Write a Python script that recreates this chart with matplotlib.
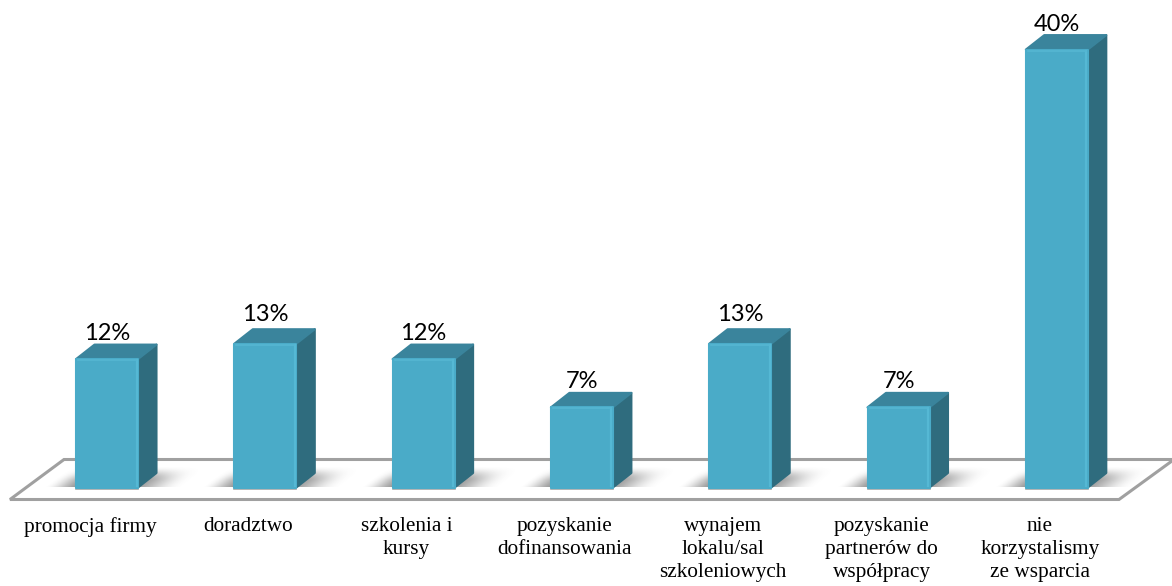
import numpy as np
import matplotlib
matplotlib.use('Agg')
import matplotlib.pyplot as plt
from matplotlib.patches import Polygon

categories = ['promocja firmy', 'doradztwo', 'szkolenia i\nkursy', 'pozyskanie\ndofinansowania',
              'wynajem\nlokalu/sal\nszkoleniowych', 'pozyskanie\npartnerów do\nwspółpracy',
              'nie\nkorzystalismy\nze wsparcia']
values = [11.7, 13.1, 11.7, 7.3, 13.1, 7.3, 39.9]
value_labels = ['12%', '13%', '12%', '7%', '13%', '7%', '40%']

W, H = 1172, 586
x0, x_step = 107.0, 158.3
y0, y_step = 487.5, 10.975

# the 13% labels sit a little higher above their bars
label_lift = [0, 4, 0, 0, 4, 0, 0]

fig = plt.figure(figsize=(W / 100, H / 100), dpi=100)
ax = fig.add_axes([0, 0, 1, 1])
xlim = (-x0 / x_step, (W - x0) / x_step)
ylim = ((y0 - H) / y_step, y0 / y_step)
ax.axis('off')

bar_w = 62 / x_step
dx = 18.5 / x_step
dy = 14.5 / y_step

# floor plate
floor_y_front = -12 / y_step
floor_y_back = 28 / y_step
floor = [(-97 / x_step, floor_y_front), (1012 / x_step, floor_y_front),
         (1067 / x_step, floor_y_back), (-43 / x_step, floor_y_back)]
ax.add_patch(Polygon(floor, closed=True, fc='white', ec='#A0A0A0', lw=2.2, zorder=1))


def smooth(t):
    t = np.clip(t, 0, 1)
    return t * t * (3 - 2 * t)


# soft shadow of one bar, in pixels relative to the bar's lower left corner
sh_x = np.arange(-40, 140)
sh_y = np.arange(0, 24)
gx, gy = np.meshgrid(sh_x + 0.5, sh_y + 0.5)
s = gx - 1.3 * gy
sh_alpha = smooth((s + 32) / 36) * smooth((108 - s) / 56) ** 1.3 * smooth((21 - gy) / 15) * 0.72
sh_rgba = np.zeros(gx.shape + (4,))
sh_rgba[..., :3] = 0.42
sh_rgba[..., 3] = sh_alpha

for i, (v, lab, cat) in enumerate(zip(values, value_labels, categories)):
    left, right = i - bar_w / 2, i + bar_w / 2

    ax.imshow(sh_rgba, origin='lower', aspect='auto', interpolation='bilinear', zorder=2,
              extent=(left + sh_x[0] / x_step, left + (sh_x[-1] + 1) / x_step,
                      sh_y[0] / y_step, (sh_y[-1] + 1) / y_step))

    # side and top faces
    ax.add_patch(Polygon([(right, 0), (right + dx, dy), (right + dx, v + dy), (right, v)],
                         closed=True, fc='#2F6C7E', ec='#2F6C7E', lw=1.5, joinstyle='round', zorder=3))
    ax.add_patch(Polygon([(left, v), (right, v), (right + dx, v + dy), (left + dx, v + dy)],
                         closed=True, fc='#3A849C', ec='#3A849C', lw=1.5, joinstyle='round', zorder=3))

    # front face with slightly lighter bevel
    ax.add_patch(Polygon([(left, 0), (right, 0), (right, v), (left, v)],
                         closed=True, fc='#4AABC8', ec='#4AABC8', lw=1.5, joinstyle='round', zorder=4))
    ax.plot([right - 1.5 / x_step] * 2, [0.1, v - 0.1], color='#55B8D4', lw=1.6, zorder=5)
    ax.plot([left + 2 / x_step, right - 2 / x_step], [v - 1 / y_step] * 2, color='#55B6D2', lw=1.2, zorder=5)
    ax.plot([left, right], [-1 / y_step] * 2, color='#A8A8A8', lw=1.2, zorder=3)

    ax.text(i, v + dy + (0.5 + label_lift[i]) / y_step, lab, ha='center', va='bottom', fontsize=17,
            family='Lato', color='black', zorder=6)
    ax.text(i - 17 / x_step, -29.5 / y_step, cat, ha='center', va='top', fontsize=15.3,
            family='Liberation Serif', color='black', linespacing=1.27, zorder=6)

ax.set_xlim(xlim)
ax.set_ylim(ylim)
fig.savefig('out.png', dpi=100, facecolor='white')
